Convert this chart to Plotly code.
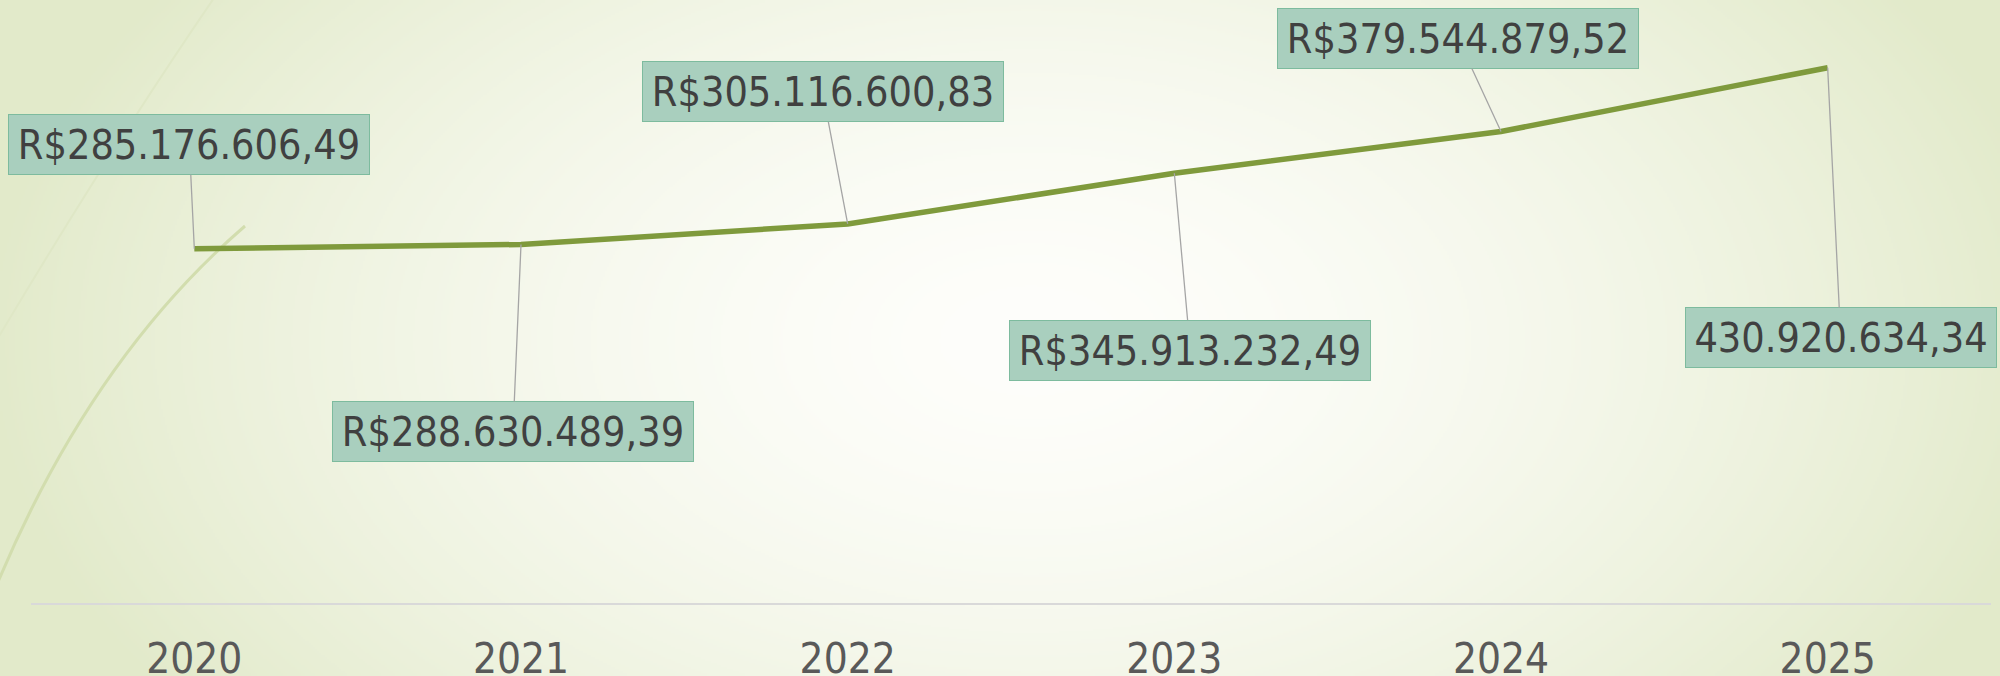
import base64
import struct
import zlib

import numpy as np
import plotly.graph_objects as go

# ---------------- data ----------------
years = ["2020", "2021", "2022", "2023", "2024", "2025"]
values = [285176606.49, 288630489.39, 305116600.83, 345913232.49, 379544879.52, 430920634.34]
labels = [
    "R$285.176.606,49",
    "R$288.630.489,39",
    "R$305.116.600,83",
    "R$345.913.232,49",
    "R$379.544.879,52",
    "430.920.634,34",
]

# ---------------- layout constants ----------------
W, H = 2000, 676
ML, MR, MT, MB = 31, 9, 44, 73
PW, PH = W - ML - MR, H - MT - MB

# label offsets (pixels, box centre relative to point) and box widths
offsets = [(-5, -104), (-8, 187), (-25, -132), (16, 177), (-43, -93), (13, 270)]
box_w = [360, 360, 360, 360, 360, 310]

FONT = "DejaVu Sans Condensed, DejaVu Sans, sans-serif"


# ---------------- background (radial gradient) ----------------
def make_png(arr):
    h, w, _ = arr.shape
    raw = b"".join(b"\x00" + arr[y].tobytes() for y in range(h))

    def chunk(tag, data):
        c = struct.pack(">I", len(data)) + tag + data
        return c + struct.pack(">I", zlib.crc32(tag + data) & 0xFFFFFFFF)

    ihdr = struct.pack(">IIBBBBB", w, h, 8, 2, 0, 0, 0)
    return b"\x89PNG\r\n\x1a\n" + chunk(b"IHDR", ihdr) + chunk(b"IDAT", zlib.compress(raw, 9)) + chunk(b"IEND", b"")


gw, gh = 1000, 338
yy, xx = np.mgrid[0:gh, 0:gw].astype(float)
xx = xx * (W / gw)
yy = yy * (H / gh)
cx, cy, rx, ry = 1030, 340, 1050, 640
r = np.sqrt(((xx - cx) / rx) ** 2 + ((yy - cy) / ry) ** 2)
f = np.clip(r, 0, 1) ** 1.6
inner = np.array([254, 254, 251], float)
edge = np.array([226, 234, 202], float)
img = inner[None, None, :] * (1 - f[..., None]) + edge[None, None, :] * f[..., None]
img = np.clip(img, 0, 255).astype(np.uint8)
bg_src = "data:image/png;base64," + base64.b64encode(make_png(img)).decode()


def px(x):
    return (x - ML) / PW


def py(y):
    return (H - MB - y) / PH


# ---------------- figure ----------------
fig = go.Figure()
fig.add_trace(
    go.Scatter(
        x=years,
        y=values,
        mode="lines",
        line=dict(color="#7f9a3c", width=5.5),
        hoverinfo="skip",
        showlegend=False,
    )
)

annotations = []
for i, (v, lab, (ax, ay), bw) in enumerate(zip(values, labels, offsets, box_w)):
    annotations.append(
        dict(
            x=i,
            y=v,
            xref="x",
            yref="y",
            text=lab,
            showarrow=True,
            arrowhead=0,
            arrowwidth=1.3,
            arrowcolor="#a5a5a5",
            ax=ax,
            ay=ay,
            bgcolor="#a9cfbe",
            bordercolor="#7dbb9e",
            borderwidth=1,
            borderpad=0,
            width=bw,
            height=59,
            align="center",
            valign="middle",
            font=dict(family=FONT, size=41, color="#404040"),
        )
    )

shapes = [
    # faint wisp
    dict(
        type="path",
        xref="paper",
        yref="paper",
        path=f"M {px(214)},{py(-2)} Q {px(110)},{py(150)} {px(-2)},{py(338)}",
        line=dict(color="#dfe7c6", width=2),
        layer="below",
    ),
    # stronger wisp
    dict(
        type="path",
        xref="paper",
        yref="paper",
        path=f"M {px(245)},{py(226)} Q {px(92)},{py(358)} {px(-2)},{py(582)}",
        line=dict(color="#d2ddae", width=3),
        layer="below",
    ),
]

fig.update_layout(
    width=W,
    height=H,
    margin=dict(l=ML, r=MR, t=MT, b=MB, autoexpand=False),
    paper_bgcolor="rgba(0,0,0,0)",
    plot_bgcolor="rgba(0,0,0,0)",
    showlegend=False,
    annotations=annotations,
    shapes=shapes,
    images=[
        dict(
            source=bg_src,
            xref="paper",
            yref="paper",
            x=-ML / PW,
            y=1 + MT / PH,
            sizex=W / PW,
            sizey=H / PH,
            xanchor="left",
            yanchor="top",
            sizing="stretch",
            layer="below",
        )
    ],
    xaxis=dict(
        type="category",
        range=[-0.5, 5.5],
        automargin=False,
        showgrid=False,
        zeroline=False,
        showline=True,
        linecolor="#d9d9d9",
        linewidth=2,
        ticks="",
        ticklabelstandoff=18,
        tickfont=dict(family=FONT, size=42, color="#595959"),
        fixedrange=True,
    ),
    yaxis=dict(
        range=[0, 450e6],
        automargin=False,
        showgrid=False,
        zeroline=False,
        showline=False,
        showticklabels=False,
        fixedrange=True,
    ),
)

fig.write_html(
    "out.html",
    config={"displayModeBar": False},
    post_script="document.body.style.margin='0';document.body.style.overflow='hidden';",
)
